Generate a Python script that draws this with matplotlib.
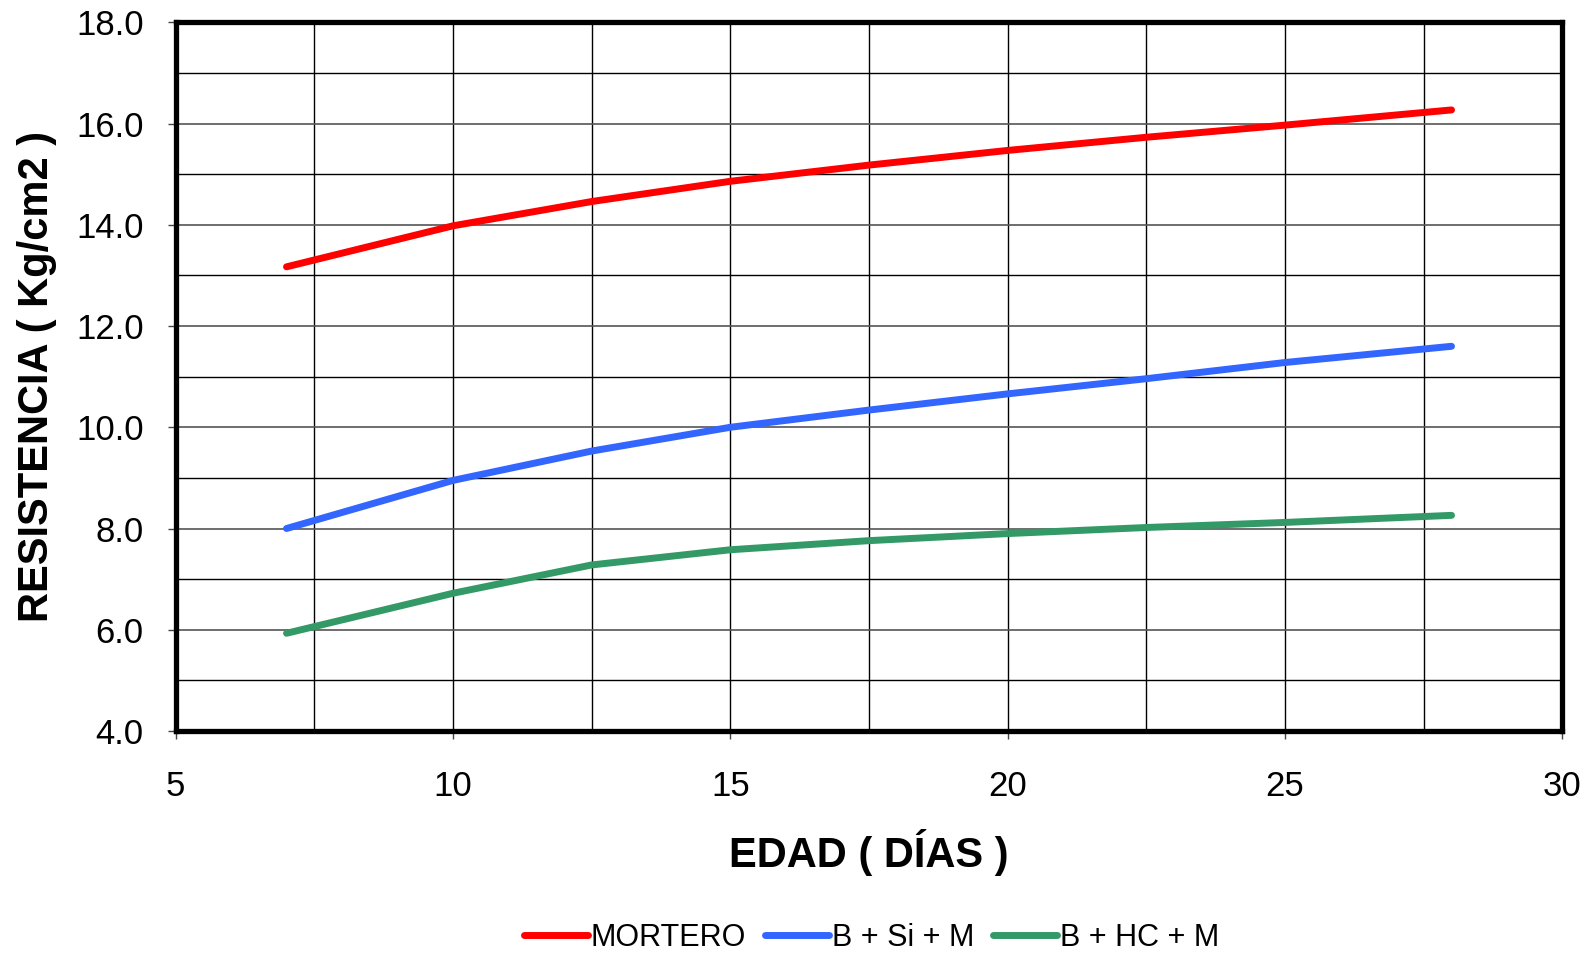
import numpy as np
import matplotlib.pyplot as plt
from matplotlib.ticker import MultipleLocator

plt.rcParams['font.family'] = ['Liberation Sans', 'DejaVu Sans']

edad = [7, 10, 12.5, 15, 17.5, 20, 22.5, 25, 28]
mortero = [13.17, 13.98, 14.46, 14.86, 15.18, 15.47, 15.73, 15.97, 16.27]
b_si_m = [8.00, 8.95, 9.53, 10.00, 10.34, 10.66, 10.96, 11.28, 11.60]
b_hc_m = [5.93, 6.72, 7.28, 7.58, 7.76, 7.90, 8.02, 8.12, 8.26]

series = [('MORTERO', mortero, '#FF0000'),
          ('B + Si + M', b_si_m, '#3366FF'),
          ('B + HC + M', b_hc_m, '#339966')]

fig = plt.figure(figsize=(15.96, 9.56), dpi=100)
ax = fig.add_axes([0.110, 0.2354, 0.869, 0.7412])

for nombre, vals, col in series:
    ax.plot(edad, vals, color=col, lw=5, solid_capstyle='round',
            solid_joinstyle='round', label=nombre, zorder=3)

ax.set_xlim(5, 30)
ax.set_ylim(4, 18)
ax.xaxis.set_major_locator(MultipleLocator(5))
ax.xaxis.set_minor_locator(MultipleLocator(2.5))
ax.yaxis.set_major_locator(MultipleLocator(2))
ax.yaxis.set_minor_locator(MultipleLocator(1))
ax.yaxis.set_major_formatter(lambda v, p: f'{v:.1f}')

ax.grid(which='both', axis='x', color='black', lw=1.0)
ax.grid(which='major', axis='y', color='#555555', lw=1.2)
ax.grid(which='minor', axis='y', color='black', lw=1.0)
ax.tick_params(which='major', labelsize=25, length=6, width=1, color='#444444',
               direction='out')
ax.tick_params(which='minor', length=0)
ax.tick_params(axis='x', pad=22)
ax.tick_params(axis='y', pad=17)

for s in ax.spines.values():
    s.set_linewidth(3.8)
    s.set_color('black')

ax.set_xlabel('EDAD ( DÍAS )', fontsize=30, fontweight='bold', labelpad=19)
ax.set_ylabel('RESISTENCIA ( Kg/cm2 )', fontsize=30, fontweight='bold', labelpad=14)

leg = fig.legend(loc='center', bbox_to_anchor=(0.546, 0.019), ncol=3, frameon=False,
                 fontsize=22, handlelength=2.1, handletextpad=0.1, columnspacing=0.6)

fig.savefig('out.png', dpi=100)
